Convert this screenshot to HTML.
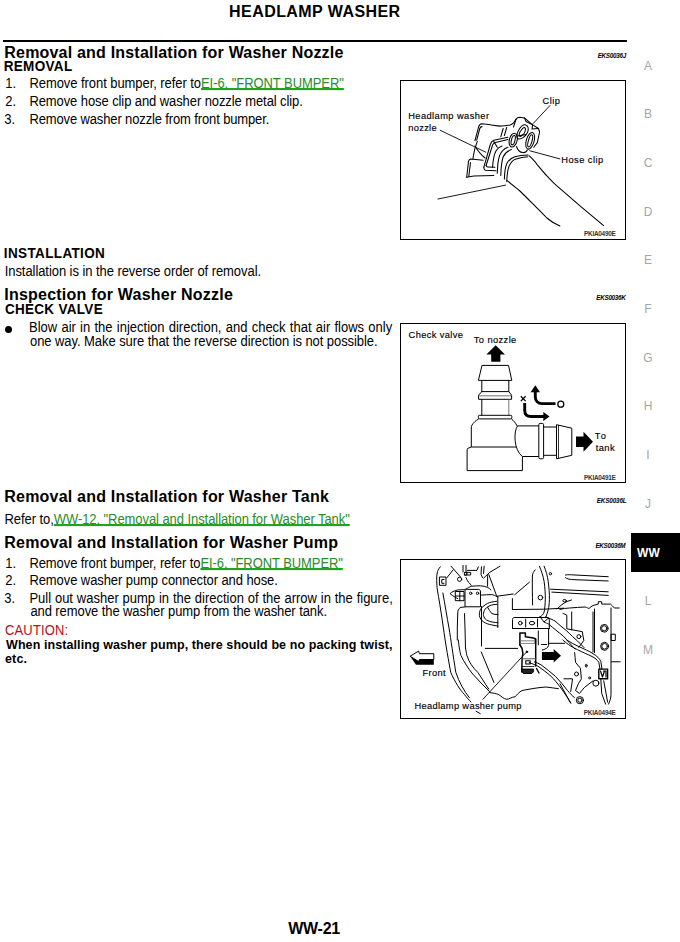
<!DOCTYPE html>
<html><head><meta charset="utf-8">
<style>
html,body{margin:0;padding:0;background:#fff;}
body{width:680px;height:942px;position:relative;overflow:hidden;font-family:"Liberation Sans",sans-serif;color:#000;}
.t{position:absolute;white-space:pre;line-height:1;}
.lk{color:#2a8c2a;text-decoration:underline;text-decoration-color:#20a420;text-decoration-thickness:1.8px;text-underline-offset:0px;text-decoration-skip-ink:none;}
.sd{position:absolute;left:630px;width:36px;text-align:center;font-size:12px;line-height:13px;color:#a5a5a5;}
.box{position:absolute;border:1px solid #000;left:400px;width:224px;overflow:hidden;background:#fff;}
.box svg{position:absolute;left:0;top:0;}
.bul{position:absolute;left:5px;top:326px;width:7px;height:7px;border-radius:50%;background:#000;}
</style></head>
<body>
<div style="position:absolute;left:3px;top:40px;width:624px;height:2px;background:#000;"></div>
<div class="sd" style="top:59.7px">A</div>
<div class="sd" style="top:108.4px">B</div>
<div class="sd" style="top:157.0px">C</div>
<div class="sd" style="top:205.7px">D</div>
<div class="sd" style="top:254.3px">E</div>
<div class="sd" style="top:303.0px">F</div>
<div class="sd" style="top:351.7px">G</div>
<div class="sd" style="top:400.3px">H</div>
<div class="sd" style="top:449.0px">I</div>
<div class="sd" style="top:497.6px">J</div>
<div class="sd" style="top:595.0px">L</div>
<div class="sd" style="top:643.6px">M</div>
<div style="position:absolute;left:631px;top:533px;width:49px;height:39px;background:#000;"></div>
<div class="t" style="left:637px;top:547px;font-size:12px;font-weight:bold;color:#fff;letter-spacing:0.2px;">WW</div>
<div class="bul"></div>
<div class="t" id="hdr" style="left:229.10px;top:4.40px;font-size:16px;font-weight:bold;letter-spacing:0.429px;">HEADLAMP WASHER</div>
<div class="t" id="t1" style="left:4.30px;top:45.40px;font-size:16px;font-weight:bold;letter-spacing:0.195px;">Removal and Installation for Washer Nozzle</div>
<div class="t" id="c1" style="left:597.70px;top:52.65px;font-size:6.3px;font-weight:bold;font-style:italic;letter-spacing:-0.286px;">EKS0036J</div>
<div class="t" id="s1" style="left:3.70px;top:60.45px;font-size:13.5px;font-weight:bold;transform:scaleY(1.08);transform-origin:0 11.43px;letter-spacing:0.333px;">REMOVAL</div>
<div class="t" id="n1" style="left:5.20px;top:76.95px;font-size:13px;transform:scaleY(1.06);transform-origin:0 11.00px;">1.</div>
<div class="t" id="l1" style="left:29.40px;top:76.95px;font-size:13px;transform:scaleY(1.06);transform-origin:0 11.00px;letter-spacing:-0.062px;">Remove front bumper, refer to<span class="lk">EI-6, "FRONT BUMPER"</span></div>
<div class="t" id="n2" style="left:5.30px;top:94.95px;font-size:13px;transform:scaleY(1.06);transform-origin:0 11.00px;">2.</div>
<div class="t" id="l2" style="left:29.40px;top:94.95px;font-size:13px;transform:scaleY(1.06);transform-origin:0 11.00px;letter-spacing:-0.089px;">Remove hose clip and washer nozzle metal clip.</div>
<div class="t" id="n3" style="left:4.30px;top:112.95px;font-size:13px;transform:scaleY(1.06);transform-origin:0 11.00px;">3.</div>
<div class="t" id="l3" style="left:29.40px;top:112.95px;font-size:13px;transform:scaleY(1.06);transform-origin:0 11.00px;letter-spacing:-0.132px;">Remove washer nozzle from front bumper.</div>
<div class="t" id="s2" style="left:3.85px;top:247.45px;font-size:13.5px;font-weight:bold;transform:scaleY(1.08);transform-origin:0 11.43px;letter-spacing:0.364px;">INSTALLATION</div>
<div class="t" id="l4" style="left:4.70px;top:265.45px;font-size:13px;transform:scaleY(1.06);transform-origin:0 11.00px;letter-spacing:-0.064px;">Installation is in the reverse order of removal.</div>
<div class="t" id="t2" style="left:4.30px;top:286.90px;font-size:16px;font-weight:bold;letter-spacing:0.222px;">Inspection for Washer Nozzle</div>
<div class="t" id="c2" style="left:596.30px;top:294.64px;font-size:6.3px;font-weight:bold;font-style:italic;letter-spacing:-0.286px;">EKS0036K</div>
<div class="t" id="s3" style="left:4.90px;top:302.95px;font-size:13.5px;font-weight:bold;transform:scaleY(1.08);transform-origin:0 11.43px;letter-spacing:0.300px;">CHECK VALVE</div>
<div class="t" id="b1" style="left:29.00px;top:321.45px;font-size:13px;text-align:justify;text-align-last:justify;transform:scaleY(1.06);transform-origin:0 11.00px;width:363.20px;">Blow air in the injection direction, and check that air flows only</div>
<div class="t" id="b2" style="left:30.00px;top:334.95px;font-size:13px;transform:scaleY(1.06);transform-origin:0 11.00px;letter-spacing:-0.066px;">one way. Make sure that the reverse direction is not possible.</div>
<div class="t" id="t3" style="left:4.30px;top:488.90px;font-size:16px;font-weight:bold;letter-spacing:0.205px;">Removal and Installation for Washer Tank</div>
<div class="t" id="c3" style="left:596.80px;top:497.64px;font-size:6.3px;font-weight:bold;font-style:italic;letter-spacing:-0.143px;">EKS0036L</div>
<div class="t" id="r1" style="left:4.50px;top:512.95px;font-size:13px;transform:scaleY(1.06);transform-origin:0 11.00px;letter-spacing:-0.070px;">Refer to,<span class="lk">WW-12, "Removal and Installation for Washer Tank"</span></div>
<div class="t" id="t4" style="left:4.30px;top:534.90px;font-size:16px;font-weight:bold;letter-spacing:0.231px;">Removal and Installation for Washer Pump</div>
<div class="t" id="c4" style="left:595.40px;top:543.15px;font-size:6.3px;font-weight:bold;font-style:italic;letter-spacing:-0.286px;">EKS0036M</div>
<div class="t" id="m1" style="left:5.20px;top:556.95px;font-size:13px;transform:scaleY(1.06);transform-origin:0 11.00px;">1.</div>
<div class="t" id="p1" style="left:29.40px;top:556.95px;font-size:13px;transform:scaleY(1.06);transform-origin:0 11.00px;letter-spacing:-0.083px;">Remove front bumper, refer to<span class="lk">EI-6, "FRONT BUMPER"</span></div>
<div class="t" id="m2" style="left:5.30px;top:573.95px;font-size:13px;transform:scaleY(1.06);transform-origin:0 11.00px;">2.</div>
<div class="t" id="p2" style="left:29.40px;top:573.95px;font-size:13px;transform:scaleY(1.06);transform-origin:0 11.00px;letter-spacing:-0.081px;">Remove washer pump connector and hose.</div>
<div class="t" id="m3" style="left:4.30px;top:591.95px;font-size:13px;transform:scaleY(1.06);transform-origin:0 11.00px;">3.</div>
<div class="t" id="p3" style="left:29.40px;top:591.95px;font-size:13px;text-align:justify;text-align-last:justify;transform:scaleY(1.06);transform-origin:0 11.00px;width:363.40px;">Pull out washer pump in the direction of the arrow in the figure,</div>
<div class="t" id="p4" style="left:30.40px;top:604.95px;font-size:13px;transform:scaleY(1.06);transform-origin:0 11.00px;letter-spacing:-0.085px;">and remove the washer pump from the washer tank.</div>
<div class="t" id="cau" style="left:5.00px;top:623.95px;font-size:13px;color:#b5121b;transform:scaleY(1.06);transform-origin:0 11.00px;letter-spacing:0.143px;">CAUTION:</div>
<div class="t" id="w1" style="left:6.00px;top:639.08px;font-size:12.5px;font-weight:bold;letter-spacing:0.085px;">When installing washer pump, there should be no packing twist,</div>
<div class="t" id="w2" style="left:4.90px;top:652.98px;font-size:12.5px;font-weight:bold;letter-spacing:0.200px;">etc.</div>
<div class="t" id="ftr" style="left:288.20px;top:921.40px;font-size:16px;font-weight:bold;letter-spacing:-0.250px;">WW-21</div>
<div class="t" id="f1a" style="left:408.20px;top:111.70px;font-size:9.3px;-webkit-text-stroke:0.15px #000;letter-spacing:0.421px;">Headlamp washer</div>
<div class="t" id="f1b" style="left:408.20px;top:123.50px;font-size:9.3px;-webkit-text-stroke:0.15px #000;letter-spacing:0.320px;">nozzle</div>
<div class="t" id="f1c" style="left:542.60px;top:97.49px;font-size:9.3px;-webkit-text-stroke:0.15px #000;letter-spacing:0.467px;">Clip</div>
<div class="t" id="f1d" style="left:561.20px;top:156.30px;font-size:9.3px;-webkit-text-stroke:0.15px #000;letter-spacing:0.475px;">Hose clip</div>
<div class="t" id="f1p" style="left:584.00px;top:231.16px;font-size:6.4px;font-weight:bold;color:#333;letter-spacing:-0.250px;">PKIA0490E</div>
<div class="t" id="f2a" style="left:408.60px;top:331.10px;font-size:9.3px;-webkit-text-stroke:0.15px #000;letter-spacing:0.370px;">Check valve</div>
<div class="t" id="f2b" style="left:473.80px;top:335.50px;font-size:9.3px;-webkit-text-stroke:0.15px #000;letter-spacing:0.400px;">To nozzle</div>
<div class="t" id="f2c" style="left:594.80px;top:431.50px;font-size:9.3px;-webkit-text-stroke:0.15px #000;letter-spacing:1.400px;">To</div>
<div class="t" id="f2d" style="left:595.80px;top:443.69px;font-size:9.3px;-webkit-text-stroke:0.15px #000;letter-spacing:0.400px;">tank</div>
<div class="t" id="f2p" style="left:584.00px;top:474.56px;font-size:6.4px;font-weight:bold;color:#333;letter-spacing:-0.250px;">PKIA0491E</div>
<div class="t" id="f3a" style="left:422.60px;top:668.90px;font-size:9.3px;-webkit-text-stroke:0.15px #000;letter-spacing:0.300px;">Front</div>
<div class="t" id="f3b" style="left:414.40px;top:702.49px;font-size:9.3px;-webkit-text-stroke:0.15px #000;letter-spacing:0.332px;">Headlamp washer pump</div>
<div class="t" id="f3p" style="left:583.80px;top:709.56px;font-size:6.4px;font-weight:bold;color:#333;letter-spacing:-0.213px;">PKIA0494E</div>
<div style="position:absolute;left:400px;top:80px;width:224px;height:158px;border:1px solid #000;"></div>
<div style="position:absolute;left:400px;top:323px;width:224px;height:158px;border:1px solid #000;"></div>
<div style="position:absolute;left:400px;top:559px;width:224px;height:158px;border:1px solid #000;"></div>
<svg style="position:absolute;left:0;top:0" width="680" height="942">
<!-- FIG 1 -->
<g fill="none" stroke="#000" stroke-width="1.05" stroke-linejoin="round" stroke-linecap="round">
 <!-- hose -->
 <path d="M507.3,180.7 C511,184 515,187 519.4,190.5 C524,195 528,199 532.4,203.4 C537,208 542,213 546.9,218 C551,221.5 555,224 559.9,226"/>
 <path d="M529.1,155.7 C532,158.5 535,161.5 537.2,164.6 C540.5,168.5 543.5,172.5 546.9,175.9 C550,179 553,182.5 556.6,185.6 L580.9,206.6 L603.6,225.7"/>
 <!-- rings -->
 <path d="M492.6,167.3 C493,160 494,154.5 496.1,150.8 C497.5,148.5 499.5,147 502,146.1"/>
 <path d="M497.3,173.2 C497.5,166 498,160 499.6,155.5 C501.5,151 504.5,148.5 507.9,147.3"/>
 <path d="M500.8,175.5 C501,168 501.5,161.5 503.2,156.7 C505,153 508,150.8 511.4,149.6"/>
 <path d="M504.4,179.1 C504.5,173 505,168 506.7,163.8 C508.5,160 511.5,157.8 514.9,156.7 C519,155.5 523.5,155 527.9,154.9"/>
 <path d="M506.7,181.4 C507,175 507.5,170 509.1,166.1 C511,162 513,160 516.1,159.1 C520,157.8 524,157 527.9,156.7"/>
 <!-- frame collar -->
 <path d="M483.8,167.3 L490.3,144.5 C490.8,142.5 492,140.8 493.8,140.2 L507.9,137.3"/>
 <path d="M486.1,165.5 L492.6,145 C493,143.8 494,143 495.5,142.6 L507.9,139.6"/>
 <path d="M483.8,167.3 C483.8,169 484.5,170 485.5,170.2 L496.1,170.8"/>
 <path d="M486.1,165.5 C486.3,166.5 486.8,167 487.8,167 L494.9,167.3"/>
 <path d="M493.8,141.4 L497.3,147.3"/>
 <!-- upper flange -->
 <path d="M474.9,140.8 L478.5,127.3 C479,125 480,124 481.4,123.8 C485,124 488,124.5 491.4,124.9 C494,125.3 497,126.1 500.8,126.1 C504,126 507,125.5 510.2,124.9 C512,124.3 513,123.5 513.8,122.6 L516.1,119.1 C517,117.8 518,117.3 519.6,117.3 L524.4,117.9 L532.6,124.9 L538.5,128.5 L539.6,132 L537.3,142.6 L533.8,147.3"/>
 <path d="M476.7,140.2 L479.8,128.5 C480.3,127 481,126.6 482,126.6"/>
 <path d="M503.2,128.5 L500.8,136.7 M506.7,127.3 L504.4,135.5"/>
 <path d="M516.1,119.1 L513.5,127 M524.4,117.9 L526,121.5 L532.6,124.9"/>
 <path d="M532.6,124.9 L532,129 L538.5,128.5"/>
 <!-- lower flange -->
 <path d="M466.7,177.3 L468.5,161.4 C468.8,160 469.6,159.1 470.8,159.1 L483.2,160.2"/>
 <path d="M468.8,176.5 L470.5,162.5"/>
 <path d="M466.7,177.3 L473.8,176.1 L493.8,175.5"/>
 <path d="M477.3,141.4 C475.5,146 474,151 473.2,156.7 L473,159"/>
 <path d="M475,146 C478,151 481,155 485,158"/>
 <!-- clip loops -->
 <path d="M525,124.8 C528.5,125.5 529,129 527.5,132.5 C525.5,136.5 521.5,139.5 518.5,139 C516,138 516.5,134 518.5,130.5 C520.5,127 522.5,124.5 525,124.8 Z"/>
 <path d="M524.5,127.5 C526,128.5 525.5,131 524,133.5 C522.5,135.5 520.5,137 519.5,136.2 C518.8,135 519.5,132.5 521,130.5 C522.3,128.5 523.5,127 524.5,127.5 Z"/>
 <ellipse cx="513.2" cy="140.2" rx="3.9" ry="7" transform="rotate(14 513.2 140.2)"/>
 <ellipse cx="513.2" cy="140.2" rx="1.8" ry="4.8" transform="rotate(14 513.2 140.2)"/>
 <ellipse cx="530.2" cy="140.8" rx="3.9" ry="8.6" transform="rotate(16 530.2 140.8)"/>
 <ellipse cx="530.2" cy="140.8" rx="1.8" ry="6.3" transform="rotate(16 530.2 140.8)"/>
 <path d="M516.5,146.5 C517.5,150 520,152.3 523,152.6 C525,152.7 526.5,152 527.3,150"/>
 <path d="M517.3,136 L526,134.5"/>
 <!-- pointer lines -->
 <path d="M440.2,130.3 L485.8,152.2" stroke-width="0.9"/>
 <path d="M550,105.5 L533.2,123.5" stroke-width="0.9"/>
 <path d="M559.9,158.9 L529.9,150.8" stroke-width="0.9"/>
 <path d="M438,199 L505.7,185.1" stroke-width="0.9"/>
</g>

<!-- FIG 2 -->
<g fill="none" stroke="#000" stroke-width="1" stroke-linejoin="round">
 <!-- top barb -->
 <path d="M482,365.4 L508.5,365.4 L511.8,380.4 L478.4,380.4 Z"/>
 <path d="M481.8,380.4 L481.8,392 M508.8,380.4 L508.8,392"/>
 <path d="M481.8,391.6 L508.8,391.6 L511.6,395.2 L511.6,399.3 L478.6,399.3 L478.6,395.2 Z"/>
 <path d="M479.2,395.8 L511,395.8" stroke="#888" stroke-width="1.2"/>
 <path d="M481.8,399.3 L481.8,415.3"/>
 <path d="M508.8,399.3 L508.8,415.3" stroke="#777"/>
 <rect x="478.4" y="415.3" width="33.4" height="3.6" rx="1"/>
 <!-- body -->
 <path d="M478.6,419 C476,420.5 473.5,422.5 472,425 C471.4,426 471.3,427 471.3,428 L471.3,447"/>
 <path d="M511.6,419 C513.5,420.5 515.5,423 517.2,426"/>
 <path d="M471.3,447 L467.5,448.5 C467.1,449 467.1,450 467.1,451 L467.1,470.6 L522.4,470.6 L522.4,456.5"/>
 <path d="M471.3,447 L516,447"/>
 <!-- side port -->
 <path d="M517.6,425.9 L538.8,425.9"/>
 <path d="M522.4,456.5 L538.8,456.5"/>
 <path d="M517.6,425.9 C513.5,431 513.5,450 522.4,456.5"/>
 <rect x="538.8" y="423.4" width="4.8" height="35.4" rx="1.3"/>
 <path d="M543.6,427 L556.5,427 M543.6,455.3 L556.5,455.3"/>
 <path d="M556.5,424.7 L571.8,428.2 L571.8,455.3 L556.5,458.8 Z"/>
 <path d="M558.5,425.2 L558.5,458.3" stroke-width="0.8"/>
</g>
<!-- arrows -->
<g fill="#000" stroke="none">
 <path d="M495.7,345.3 L505,354.4 L500.4,354.4 L500.4,361.8 L491.2,361.8 L491.2,354.4 L486.4,354.4 Z"/>
 <path d="M576,436.6 L583.5,436.6 L583.5,431.8 L593,441.7 L583.5,451.8 L583.5,447 L576,447 Z"/>
 <path d="M535.3,385.3 L540,392.3 L530.6,392.3 Z"/>
 <path d="M549.6,416.5 L543.3,412 L543.3,421 Z"/>
</g>
<g fill="none" stroke="#000" stroke-width="2.9">
 <path d="M535.3,391 L535.3,397 C535.3,401 538,403.6 542,403.6 L555.5,403.6"/>
 <path d="M524.7,403 L524.7,410.5 C524.7,414.3 527,416.5 531,416.5 L544.5,416.5"/>
</g>
<circle cx="560.8" cy="404.2" r="3" fill="none" stroke="#000" stroke-width="1.3"/>
<path d="M520.8,396.3 L525.6,401.1 M525.6,396.3 L520.8,401.1" stroke="#000" stroke-width="1.3"/>

<!-- FIG 3 -->
<g fill="none" stroke="#000" stroke-width="1" stroke-linejoin="round" stroke-linecap="round">
 <!-- left fender lines -->
 <path d="M440.3,566.8 C438.5,569 437.5,571 437.2,573 C436.6,576 436.6,578 436.7,580.7 C436.8,584 437,587 437.2,589 C438,594 439,599 439.8,604.3 C441,612 442.3,620 443.4,628 C445,640 447,652 450.7,672.3 C455,682 460,690 464.3,694.3 C467,698 469,700 471,701.9"/>
 <path d="M442.9,593 C445,605 447,617 449,628 C451,640 453,655 455.8,672.3 C459,682 464,691 469.3,697.6"/>
 <path d="M439.8,577 L446,577 L446,585.3 L439.8,585.3 Z"/>
 <path d="M444,579.5 L441.8,579.5 L441.8,583.3 L444,583.3"/>
 <!-- top cluster -->
 <path d="M447,577.6 L453.2,569.8"/>
 <path d="M451.1,566.2 L460.5,577"/>
 <circle cx="459.6" cy="579.3" r="2.1"/>
 <path d="M463,565.5 L463,572 M466,565.5 L466,572"/>
 <path d="M464.5,572.4 L470.7,572.4 L470.7,575 L464.5,575"/>
 <circle cx="465.6" cy="574" r="1.4"/>
 <path d="M467.1,570.4 L476.9,570.4 L478.4,566.8"/>
 <path d="M481.5,566.8 L481,574.5 L482.5,577.6 M484.1,566.2 L483.6,573.4"/>
 <path d="M483.6,578.1 L489.7,572.4 L500,566.2"/>
 <path d="M466,577.6 C467,580 468,582 469.1,582.7 L471.2,585.3"/>
 <path d="M487.6,575.6 L487.6,586.2 M488.8,574.5 L496.5,595.6 L497.8,597"/>
 <!-- tank top pointed oval -->
 <path d="M465,589.7 L457.8,589.9 C454,591 451.5,592 450.1,593.5 C451.5,595 453,596 454.2,596.6 L457.8,598.7"/>
 <path d="M465,589.4 C468,588 469.5,587 471.2,586.3 C474,586 477,585.8 480.5,585.8 C483,586 485.5,586.5 487.7,587.4 C489,588 490,589 490.8,589.9"/>
 <!-- small grid connector -->
 <path d="M455.7,591.5 L464,591.5 L464,600.7 L455.7,600.7 Z"/>
 <path d="M455.7,596 L464,596 M459.8,591.5 L459.8,600.7"/>
 <!-- bracket plate -->
 <path d="M465,606.4 L465,591.5 C465,590 466,589.4 467.5,589.4 L478.5,589.4 C480,589.4 480.5,590.5 480.5,592 L480.5,606.4 Z"/>
 <circle cx="470.7" cy="593.3" r="1.2"/>
 <circle cx="477.6" cy="593.3" r="1.2"/>
 <!-- tank body left side -->
 <path d="M457.3,640 L457.3,628 L457.8,611.6 C458.5,609 459.5,607.8 460.9,607.4 L465,606.9"/>
 <path d="M464.5,613.6 L465,628 L465.5,648"/>
 <path d="M481.5,606.4 L481.5,646"/>
 <!-- hose loop -->
 <path d="M481.5,595.1 C485,594.8 488,594.6 491.8,594.6 C493.5,594.8 495,595.5 496.9,596.6"/>
 <path d="M496.9,601.3 C493,601.7 490,602.3 487.7,603.3 C484,605.5 481.5,607.5 480.5,609.5 C479.5,611.5 479.2,613.5 479.4,615.7 C480,618.5 481.5,620.5 483.6,621.9 C486,623.5 489,624.5 491.8,624.9 C494,625.5 496,625.8 498,626"/>
 <path d="M497,604.3 C494,604.5 491.5,605 490,605.6 C487,607 485.3,608.5 484.4,610.5 C483.5,612.5 483.3,614 483.5,615.5 C484,617.5 485,619 486.5,620 C488.5,621.2 491,621.9 493,622.2 C495,622.5 496.5,622.6 498,622.7"/>
 <path d="M487.7,607.4 C489,609.5 490,611.5 491.8,613.6 C494,614.3 496,614.6 498,614.6"/>
 <!-- central tank neck -->
 <path d="M497,596.2 L513.2,594 M514.7,594.7 L529.4,582.2"/>
 <path d="M497.8,597 L497.8,627.5 M512.4,598.6 L512.4,609.5"/>
 <path d="M535.3,569.8 C533.5,571.5 532.6,573.5 532.4,576 C532.2,585 532.4,595 532.6,605"/>
 <circle cx="540.4" cy="597.6" r="2.3"/>
 <circle cx="550.4" cy="573.7" r="1.2"/>
 <!-- middle bracket plate with holes -->
 <path d="M512.5,628.5 L512.5,619.5 C512.5,618 513.5,617.5 515,617.5 L547,617.5 C548.5,617.5 549.3,618.5 549.3,620 L549.3,628.5"/>
 <circle cx="520.3" cy="623.1" r="1.8"/>
 <path d="M525.7,619 L525.7,627 M537.5,619 L537.5,627"/>
 <ellipse cx="532" cy="623.1" rx="2.6" ry="1.8"/>
 <path d="M512.5,628.5 L549.3,628.5"/>
 <!-- vertical hose -->
 <path d="M539.4,566.2 C541.5,571 543.2,576 544.1,581.5 C545,588 545.4,594 545.3,599.2 C545.2,604 544.8,608.5 544.1,612.1 C543.2,614.5 541.8,616 540,616.8"/>
 <path d="M544.1,566.2 C546,571 547.5,576 548.2,581.5 C549.1,588 549.5,594 549.4,599.2 C549.3,603.5 548.9,607 548.2,609.8 C547.6,612.5 546.8,615 545.9,616.8"/>
 <path d="M540,616.8 L544,622 L548.5,618 L545.9,616.8"/>
 <path d="M544,622 C546,623 547.5,623.5 548.5,624 C554,628.5 558,632 563.2,635.9 C567,640 571,645 575,649.1"/>
 <path d="M548.5,618 C551,619 553,620 555,621 C559,624.5 563,628 566.8,631 C571,635 574,638 577.5,641 C580,643.5 582,645.5 584,647.5"/>
 <!-- horizontal lines upper right -->
 <path d="M565.5,575 C568,574.5 570,574.7 575,575 L608.2,576.7"/>
 <path d="M565.5,577.7 C567,579 570,579.5 575,579.7 L608.2,581"/>
 <path d="M550.6,589.2 L608.2,591.8"/>
 <path d="M551.8,592.1 L608.2,595.4"/>
 <path d="M512.4,609.5 L543.5,609.2 L563.7,608.2"/>
 <ellipse cx="564.6" cy="600.7" rx="1.8" ry="1.2"/>
 <path d="M557,609 C560,606 563,603.5 567,601.5 L571.5,600"/>
 <!-- right bracket -->
 <path d="M560,609.4 C563,608.7 566,608 569.7,608 C575,607.6 580,607.2 585.2,607 C587,607.4 588,608.4 589.1,608.4 C590.5,607.5 591.5,606 593,605.5 L598.3,604.1 L598.3,601.7 L601.7,601.7 L601.7,604.1 L610.5,604.1 C612,605 613,607 614.4,608 L619.2,608"/>
 <path d="M594.5,609 L594.5,652.6 M593,612 L593,652 M611,608 L611,694.4 C611,698 610,701 608.5,704.1"/>
 <path d="M611.5,661.8 L620.2,661.8"/>
 <path d="M562.9,613.3 C564,614 566,614.5 566.8,615.2 L566.8,628.8 L582.3,631.7 L583.8,640.5 L578.9,647.3"/>
 <path d="M571.7,612 L571.7,630"/>
 <circle cx="578.9" cy="636.6" r="2"/>
 <circle cx="604.2" cy="628.3" r="3.8"/>
 <circle cx="604.2" cy="628.3" r="2.6"/>
 <circle cx="604.6" cy="646.3" r="4"/>
 <circle cx="604.6" cy="646.3" r="2.8"/>
 <rect x="611.5" y="634.2" width="3.8" height="6.3"/>
 <!-- lower right bracket -->
 <path d="M574.6,652.6 C575,656 575.3,659 575.5,662.3 L580.4,668.2 L581.4,678.8 L578.4,683.7 L575.5,690.5 L579.4,693.4 L584.3,687.6 L593,680.8"/>
 <circle cx="576.5" cy="674" r="2"/>
 <ellipse cx="586.2" cy="665.7" rx="0.9" ry="1.5"/>
 <circle cx="589.6" cy="677.9" r="1"/>
 <circle cx="595.9" cy="683.2" r="3"/>
 <circle cx="579.9" cy="700.2" r="3.6"/>
 <circle cx="579.9" cy="700.2" r="2.1"/>
 <path d="M563.9,678.8 L572.6,678.8 L570.7,691.5"/>
 <path d="M560,683.7 L570.7,703.1"/>
 <!-- right wire to connector -->
 <path d="M562.9,640 C566,643 570,646 577.5,649.7 C583,652.5 588,654.5 592,656.5 C595,658 597.5,660 598.8,662.3 L600,669"/>
 <path d="M566.8,640 C570,642 575,645 579.4,646.8 C584,649 589,651 593,653.6 C597,656 599.5,658.5 600.8,661.4 L602,669"/>
 <path d="M600.8,678.8 L601.7,693.4 L605.6,704.1 M603.7,680.8 L606,693 L607.6,702.1"/>
 <path d="M598.8,669.1 L607.6,669.1 L607.6,678.8 L598.8,678.8 Z" stroke-width="1.4"/>
 <path d="M600.5,671 L602.5,677 L604.5,671 M603.5,671 L606,671 L606,677" stroke-width="1.2"/>
 <!-- pump -->
 <path d="M519.9,644.9 L519.9,633.1 L525.4,633.1 L525.4,636.8 L533.5,637.9 L535.4,639 L535.4,643.4" stroke-width="1.5"/>
 <path d="M519.9,644.9 L522.1,648.5 L522.9,653.7 L522.1,658.1 L521.8,672 M535.7,639 L535.7,666" stroke-width="1.5"/>
 <path d="M520.5,640.8 L535,640.8 M520.5,643.4 L535,643.4" stroke="#666" stroke-width="0.8"/>
 <path d="M522.5,658.8 L535.5,658.8" stroke="#555"/>
 <circle cx="526.9" cy="651.8" r="0.8" fill="#000"/>
 <path d="M525.8,660.7 L530.2,660.7 L530.2,664 L525.8,664 Z" stroke-width="1.1"/>
 <path d="M522,669.1 L533.5,669.1 C534,671 533,673.5 531,673.5 L524,673.5 C522.5,673.5 522,672 522,669.1 Z" fill="#222"/>
 <path d="M522,666.5 L534,666.5" stroke-width="0.8"/>
 <path d="M538.3,630.9 L538.3,644.9 M548.6,629.4 L548.6,645.6 C548,648 545,649.5 542.4,650 M541.6,644.5 L546.8,644.5"/>
 <!-- hose from pump -->
 <path d="M529.1,662.5 C532,663.5 535,665 537.9,666.2 C542,669 546,672 549.7,675 C554,679 558,684 562,689.5 C565.5,694.5 568,698.5 570.8,703"/>
 <path d="M534.3,661.8 C536.5,662.5 539,663.7 540.9,664.7 C546,668.5 551,672.5 555.6,676.5 C560,681 564,686 567.5,690.5 C570,693.5 572.5,696 574.4,697.6"/>
 <path d="M536.5,668.5 L539,673" stroke-width="1.4"/>
 <!-- horizontal lines center -->
 <path d="M485.3,648.4 L517.6,648.4"/>
 <path d="M549,643.3 L564.7,643.3"/>
 <!-- lower tank lines -->
 <path d="M458.3,640 C459,647 460,652 460.9,655.4 C464,662 468,668 472.7,674 C478,680 484,686 489.6,691.7"/>
 <path d="M465.5,648 C466,651 466.5,653 466.8,655.4 C469,662 473,668 477.8,672.3 C481,677 484,682 488.8,689.2"/>
 <path d="M481.2,652 L493.9,682.4"/>
 <path d="M489.6,692.6 C493,693 496,693.5 498.1,694.3 C501,696 504,699 506.5,699.3 C509,699.5 511,697 515,696.8 C517,695 519,692 522,690.5 C530,689 538,687.5 545.9,687 C550,687.5 554,688 558.4,688.7"/>
 <!-- pointer -->
 <path d="M482.9,699.3 L526.5,652" stroke-width="0.9"/>
 <path d="M476.1,711.2 L480.3,713.7"/>
</g>
<!-- black arrow -->
<path d="M541.9,652 L553.7,652 L553.7,649.1 L561,655.7 L553.7,662.4 L553.7,660.1 L541.9,660.1 Z" fill="#000"/>
<!-- Front arrow -->
<path d="M410.1,656.2 L416,664.7 L433.8,664.7 L433.8,659.5 L417,659.5 Z" fill="#000"/>
<path d="M410.1,656.2 L418.6,651.1 L419.4,653.7 L433.8,653.7 L433.8,659.5 L419.4,659.5 L418.6,661.5 Z" fill="#fff" stroke="#000" stroke-width="1" stroke-linejoin="round"/>

</svg>
</body></html>
